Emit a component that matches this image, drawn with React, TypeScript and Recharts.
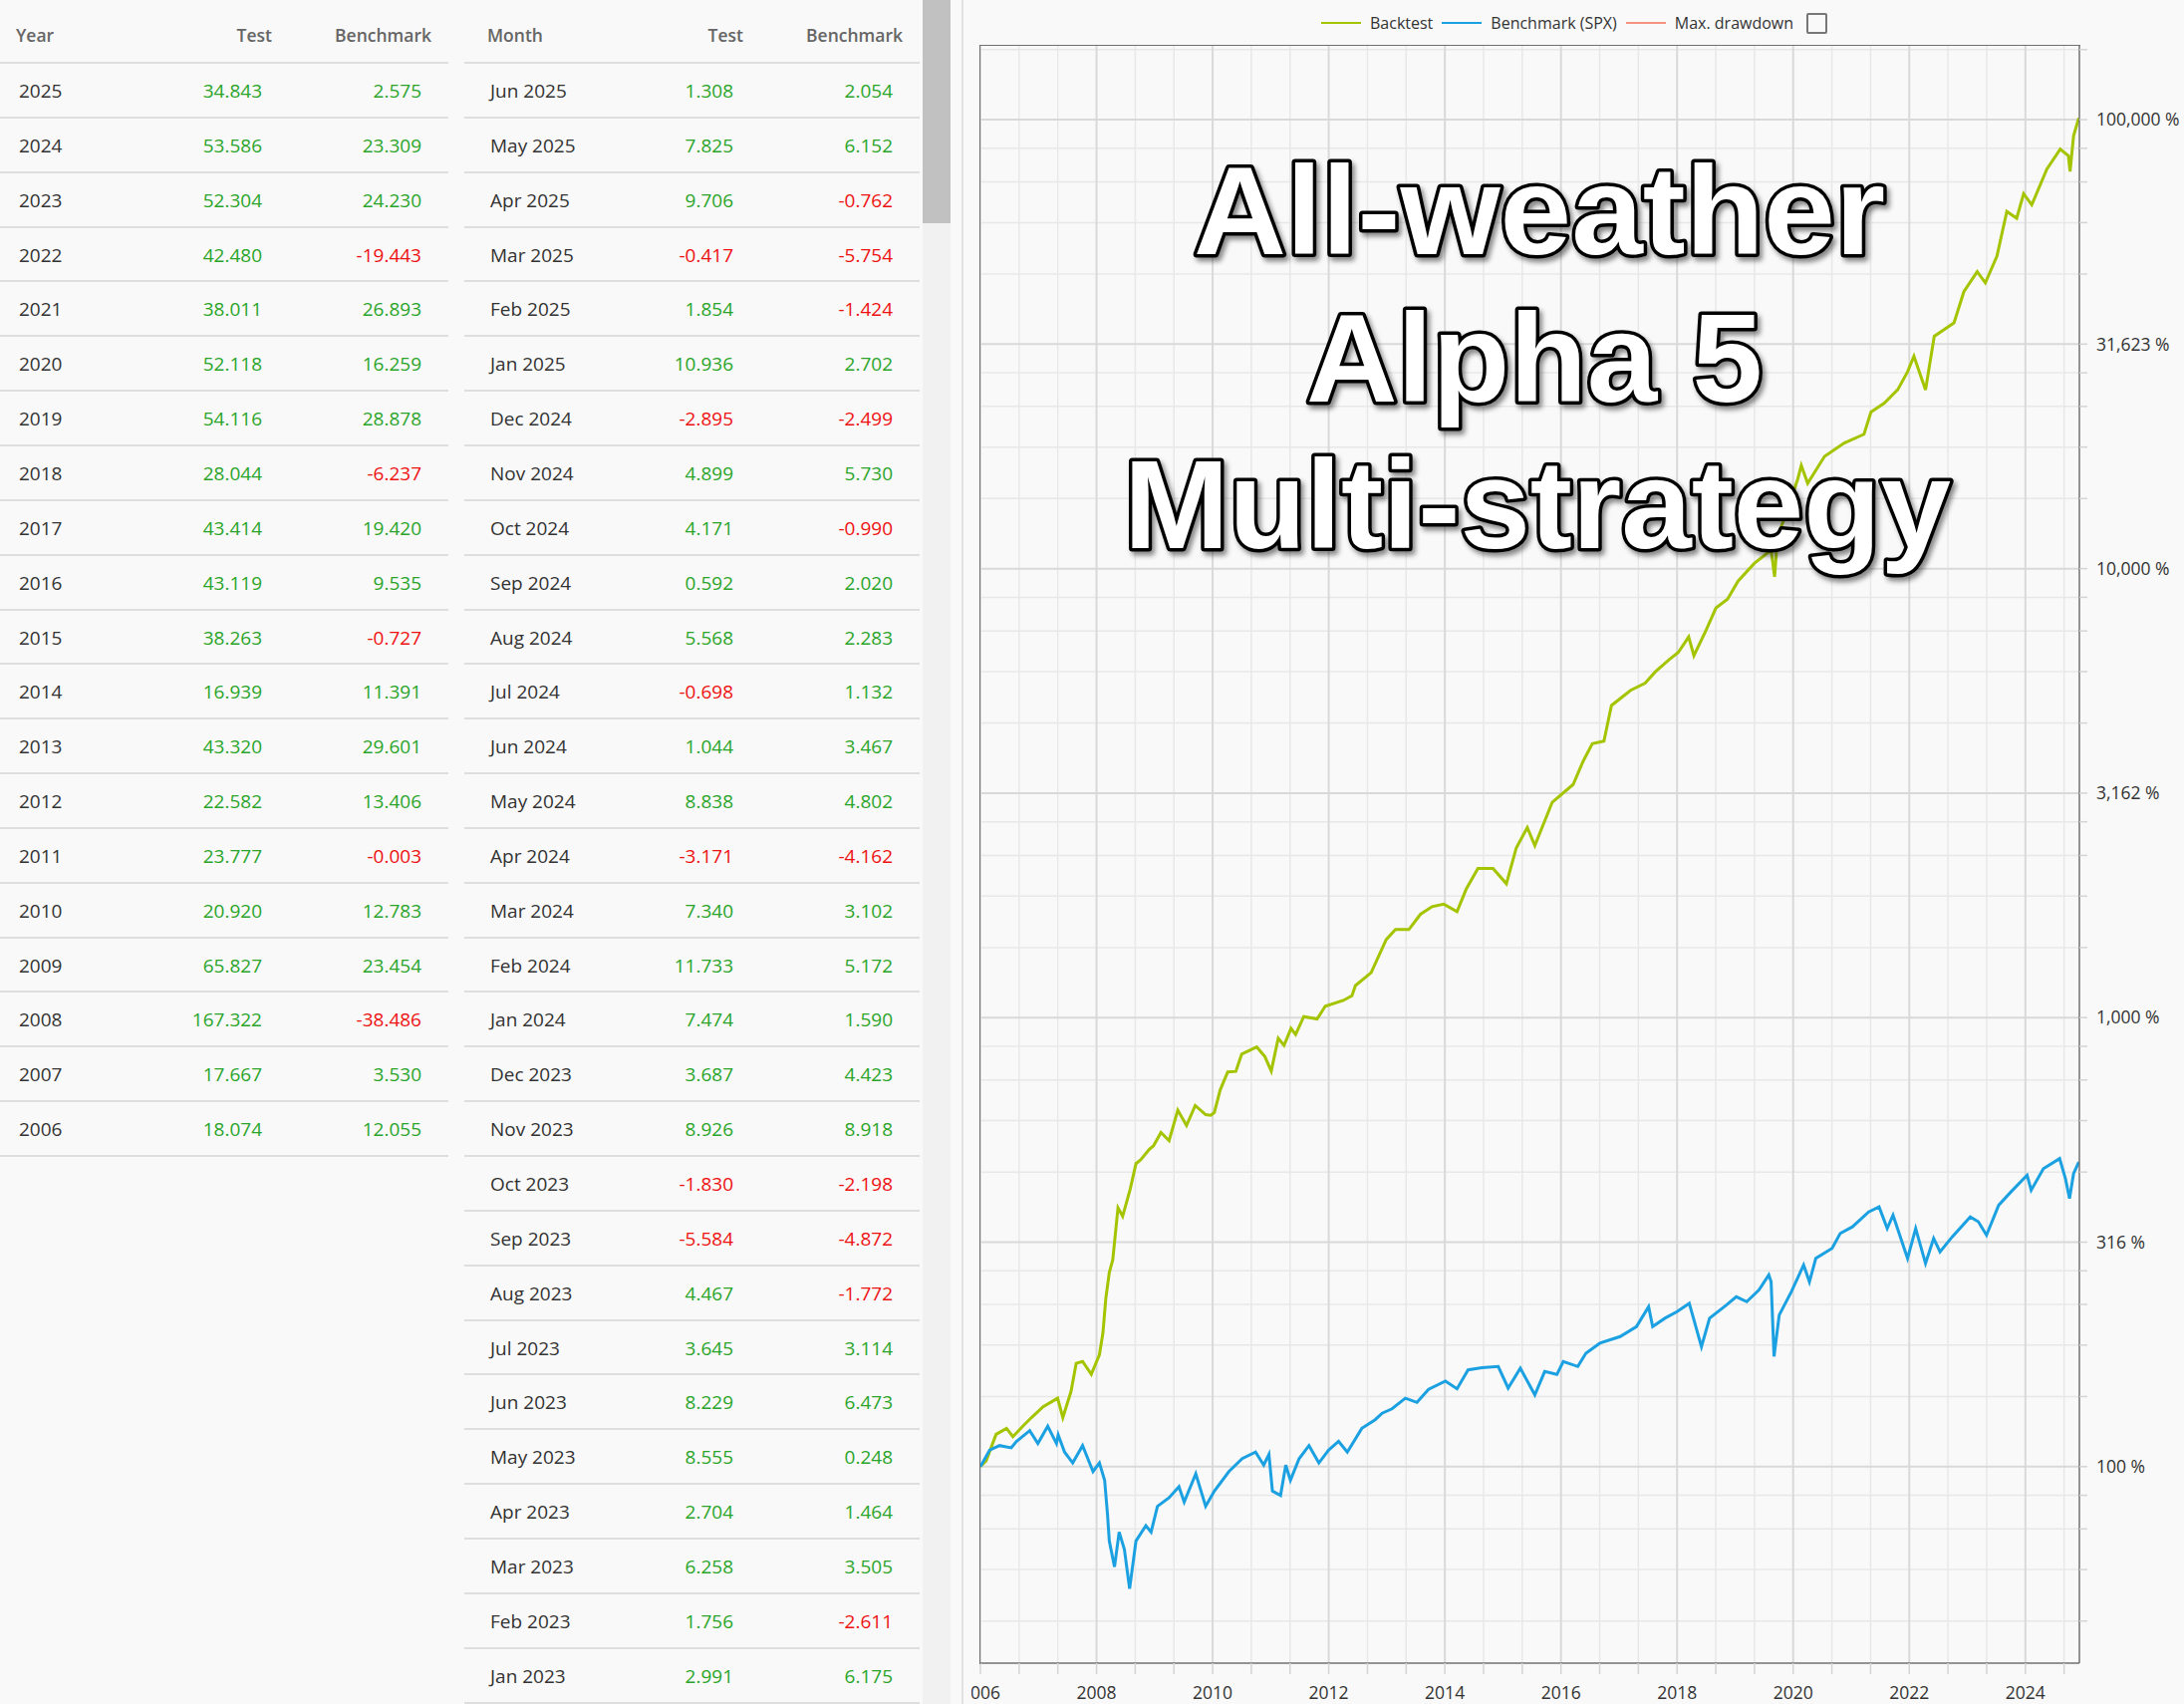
import React from "react";
import { CartesianGrid, Line, LineChart, XAxis, YAxis } from "recharts";

// yearly returns table
const YEARS = ["2025", "2024", "2023", "2022", "2021", "2020", "2019", "2018", "2017", "2016", "2015", "2014", "2013", "2012", "2011", "2010", "2009", "2008", "2007", "2006"];
const YEAR_TEST = [34.843, 53.586, 52.304, 42.48, 38.011, 52.118, 54.116, 28.044, 43.414, 43.119, 38.263, 16.939, 43.32, 22.582, 23.777, 20.92, 65.827, 167.322, 17.667, 18.074];
const YEAR_BENCH = [2.575, 23.309, 24.23, -19.443, 26.893, 16.259, 28.878, -6.237, 19.42, 9.535, -0.727, 11.391, 29.601, 13.406, -0.003, 12.783, 23.454, -38.486, 3.53, 12.055];

// monthly returns table
const MONTHS = ["Jun 2025", "May 2025", "Apr 2025", "Mar 2025", "Feb 2025", "Jan 2025", "Dec 2024", "Nov 2024", "Oct 2024", "Sep 2024", "Aug 2024", "Jul 2024", "Jun 2024", "May 2024", "Apr 2024", "Mar 2024", "Feb 2024", "Jan 2024", "Dec 2023", "Nov 2023", "Oct 2023", "Sep 2023", "Aug 2023", "Jul 2023", "Jun 2023", "May 2023", "Apr 2023", "Mar 2023", "Feb 2023", "Jan 2023"];
const MONTH_TEST = [1.308, 7.825, 9.706, -0.417, 1.854, 10.936, -2.895, 4.899, 4.171, 0.592, 5.568, -0.698, 1.044, 8.838, -3.171, 7.34, 11.733, 7.474, 3.687, 8.926, -1.83, -5.584, 4.467, 3.645, 8.229, 8.555, 2.704, 6.258, 1.756, 2.991];
const MONTH_BENCH = [2.054, 6.152, -0.762, -5.754, -1.424, 2.702, -2.499, 5.73, -0.99, 2.02, 2.283, 1.132, 3.467, 4.802, -4.162, 3.102, 5.172, 1.59, 4.423, 8.918, -2.198, -4.872, -1.772, 3.114, 6.473, 0.248, 1.464, 3.505, -2.611, 6.175];

// equity curves (axis years, % of start)
const BACKTEST_T = [2006.0, 2006.1, 2006.27, 2006.45, 2006.56, 2006.73, 2006.88, 2007.08, 2007.33, 2007.42, 2007.56, 2007.65, 2007.76, 2007.91, 2008.05, 2008.11, 2008.16, 2008.22, 2008.28, 2008.34, 2008.37, 2008.45, 2008.58, 2008.68, 2008.76, 2008.91, 2008.98, 2009.11, 2009.25, 2009.4, 2009.55, 2009.7, 2009.88, 2009.97, 2010.03, 2010.13, 2010.26, 2010.4, 2010.5, 2010.76, 2010.9, 2011.01, 2011.13, 2011.23, 2011.35, 2011.43, 2011.57, 2011.8, 2011.94, 2012.25, 2012.4, 2012.46, 2012.73, 2012.99, 2013.15, 2013.38, 2013.58, 2013.78, 2013.98, 2014.21, 2014.37, 2014.57, 2014.83, 2015.06, 2015.23, 2015.42, 2015.55, 2015.85, 2016.21, 2016.38, 2016.54, 2016.74, 2016.87, 2017.2, 2017.45, 2017.63, 2017.86, 2018.02, 2018.2, 2018.29, 2018.5, 2018.67, 2018.87, 2019.05, 2019.33, 2019.62, 2019.68, 2019.73, 2019.9, 2020.08, 2020.14, 2020.25, 2020.54, 2020.88, 2021.22, 2021.34, 2021.57, 2021.8, 2021.97, 2022.08, 2022.28, 2022.43, 2022.77, 2022.94, 2023.17, 2023.31, 2023.51, 2023.68, 2023.85, 2023.97, 2024.11, 2024.37, 2024.6, 2024.74, 2024.77, 2024.83, 2024.92];
const BACKTEST_V = [100, 103, 118, 121.7, 116.6, 123, 128.6, 135.9, 142, 128.6, 146.9, 169.8, 171.5, 160.6, 177.4, 198.3, 236.7, 270.5, 289, 345, 377, 361, 415, 473, 482, 509, 518, 555, 532, 622, 575, 637, 608, 606, 615, 690, 757, 759, 829, 860, 819, 760, 900, 867, 946, 917, 1005, 993, 1060, 1092, 1119, 1179, 1259, 1492, 1571, 1571, 1699, 1767, 1790, 1722, 1936, 2150, 2150, 1987, 2387, 2650, 2417, 3018, 3306, 3719, 4076, 4129, 4957, 5358, 5560, 5900, 6268, 6506, 7048, 6400, 7290, 8176, 8553, 9376, 10270, 11000, 9590, 11780, 13500, 15850, 16980, 15490, 17780, 19040, 19920, 22330, 23370, 25020, 27430, 29720, 25020, 32930, 35260, 41370, 45840, 43310, 49660, 62430, 60310, 68370, 64590, 77560, 85950, 83060, 76690, 92040, 100800];

const BENCH_T = [2006.0, 2006.16, 2006.33, 2006.53, 2006.62, 2006.85, 2006.99, 2007.16, 2007.31, 2007.34, 2007.45, 2007.59, 2007.76, 2007.94, 2008.05, 2008.14, 2008.19, 2008.22, 2008.31, 2008.39, 2008.48, 2008.57, 2008.68, 2008.85, 2008.94, 2009.05, 2009.25, 2009.42, 2009.51, 2009.71, 2009.88, 2010.03, 2010.28, 2010.51, 2010.74, 2010.88, 2010.97, 2011.03, 2011.17, 2011.26, 2011.34, 2011.49, 2011.66, 2011.83, 2012.0, 2012.17, 2012.32, 2012.57, 2012.8, 2012.92, 2013.09, 2013.32, 2013.52, 2013.72, 2014.01, 2014.21, 2014.4, 2014.64, 2014.92, 2015.09, 2015.3, 2015.55, 2015.72, 2015.93, 2016.04, 2016.29, 2016.43, 2016.67, 2017.02, 2017.3, 2017.51, 2017.58, 2017.79, 2018.0, 2018.21, 2018.42, 2018.56, 2018.85, 2019.02, 2019.2, 2019.41, 2019.58, 2019.62, 2019.67, 2019.76, 2019.97, 2020.18, 2020.28, 2020.39, 2020.67, 2020.81, 2021.02, 2021.3, 2021.48, 2021.62, 2021.72, 2021.97, 2022.11, 2022.28, 2022.42, 2022.53, 2022.74, 2023.05, 2023.19, 2023.33, 2023.54, 2023.75, 2024.03, 2024.1, 2024.31, 2024.59, 2024.69, 2024.76, 2024.83, 2024.92];
const BENCH_V = [100, 108.9, 111.4, 110.1, 113.8, 120.3, 112.6, 123, 112.6, 117.7, 107.7, 101.9, 111.4, 97.5, 101.9, 93.2, 78.1, 68.3, 59.8, 71.5, 65.4, 53.5, 68.3, 73.9, 71.5, 81.6, 85.3, 90.2, 83.4, 96.4, 81.6, 88.2, 97.5, 104.2, 107.7, 100.8, 106.5, 88.2, 86.3, 100.8, 93.2, 104.2, 111.4, 101.9, 108.9, 113.8, 107.7, 121.7, 127.2, 131.5, 134.5, 142, 139, 148.6, 155, 149, 164.2, 166, 167.1, 149.6, 165.7, 144.5, 162.9, 160.4, 171.4, 167.1, 178.9, 188.3, 194.8, 205, 227, 205, 214, 221.4, 231, 185, 214, 229, 239, 233, 247.4, 267.2, 258, 175.9, 217.6, 245.3, 281.2, 258, 290.9, 306.2, 330.6, 342, 369.3, 378.8, 339.2, 363, 290.9, 339.2, 283.6, 322.3, 301, 325, 360, 351, 327.8, 382.2, 409, 445.6, 412.7, 461, 485.3, 438, 395.4, 449.4, 476.9];

const Y_TICKS = [100, 316.228, 1000, 3162.28, 10000, 31622.8, 100000];

const GREEN = "#a5c400";
const BLUE = "#1ba1e2";
const SALMON = "#f4937f";
const POS = "#2aa52a";
const NEG = "#ee1111";
const FONT = "'Segoe UI', 'Open Sans', sans-serif";

const X_MIN = 2006;
const X_MAX = 2024.93;
const Y_MIN = 36.5;
const Y_MAX = 146000;

const backtestData = BACKTEST_T.map((t, i) => ({ t, v: BACKTEST_V[i] }));
const benchData = BENCH_T.map((t, i) => ({ t, v: BENCH_V[i] }));

// minor log grid: 4 linear steps between each half-decade tick
const yMinor: number[] = [];
const yEdges = [31.6228, ...Y_TICKS, 316228];
for (let i = 0; i < yEdges.length - 1; i++) {
  for (let k = 1; k < 5; k++) {
    const v = yEdges[i] + ((yEdges[i + 1] - yEdges[i]) * k) / 5;
    if (v > Y_MIN && v < Y_MAX) yMinor.push(v);
  }
}
const yAllTicks = [...Y_TICKS, ...yMinor].sort((a, b) => a - b);

const xAll: number[] = [];
for (let i = 0; X_MIN + (i * 2) / 3 <= X_MAX; i++) xAll.push(+(X_MIN + (i * 2) / 3).toFixed(4));
const isMajorX = (v: number) => Math.abs(v - Math.round(v)) < 0.01 && Math.round(v) % 2 === 0;
const xMajor = xAll.filter(isMajorX);
const xMinor = xAll.filter((v) => !isMajorX(v));

const HEAD_H = 63;
const ROW_H = 54.85;

type Cols = { width: number; headLeft: number; rowLeft: number; testHead: number; testRow: number; benchHead: number; benchRow: number };

function StatTable({ left, title, labels, test, bench, cols }: { left: number; title: string; labels: string[]; test: number[]; bench: number[]; cols: Cols }) {
  const num = (v: number, right: number, top: number) => (
    <div style={{ position: "absolute", top, right: cols.width - right, height: ROW_H, lineHeight: `${ROW_H}px`, color: v < 0 ? NEG : POS }}>
      {v.toFixed(3)}
    </div>
  );
  return (
    <div style={{ position: "absolute", left, top: 0, width: cols.width, height: 1710, fontFamily: FONT }}>
      <div style={{ position: "absolute", top: 4, left: cols.headLeft, lineHeight: "62px", fontSize: 17.5, fontWeight: 600, color: "#666" }}>{title}</div>
      <div style={{ position: "absolute", top: 4, right: cols.width - cols.testHead, lineHeight: "62px", fontSize: 17.5, fontWeight: 600, color: "#666" }}>Test</div>
      <div style={{ position: "absolute", top: 4, right: cols.width - cols.benchHead, lineHeight: "62px", fontSize: 17.5, fontWeight: 600, color: "#666" }}>Benchmark</div>
      <div style={{ position: "absolute", top: HEAD_H - 1, left: 0, width: cols.width, height: 2, background: "#dedede" }} />
      {labels.map((lab, i) => {
        const top = HEAD_H + i * ROW_H + 1;
        return (
          <div key={lab} style={{ fontSize: 19 }}>
            <div style={{ position: "absolute", top, left: cols.rowLeft, height: ROW_H, lineHeight: `${ROW_H}px`, color: "#333" }}>{lab}</div>
            {num(test[i], cols.testRow, top)}
            {num(bench[i], cols.benchRow, top)}
            <div style={{ position: "absolute", top: HEAD_H + (i + 1) * ROW_H - 1, left: 0, width: cols.width, height: 2, background: "#dedede" }} />
          </div>
        );
      })}
    </div>
  );
}

function ChartLegend() {
  const item = (color: string, label: string) => (
    <div style={{ display: "flex", alignItems: "center", gap: 9 }}>
      <div style={{ width: 40, height: 2.5, background: color }} />
      <span>{label}</span>
    </div>
  );
  return (
    <div style={{ position: "absolute", left: 1326, top: 12, height: 22, display: "flex", alignItems: "center", gap: 9, fontFamily: FONT, fontSize: 16, color: "#333", whiteSpace: "nowrap" }}>
      {item(GREEN, "Backtest")}
      {item(BLUE, "Benchmark (SPX)")}
      {item(SALMON, "Max. drawdown")}
      <div style={{ width: 17, height: 17, border: "2px solid #777", borderRadius: 2, marginLeft: 4 }} />
    </div>
  );
}

function Title() {
  return (
    <svg width={2192} height={1710} style={{ position: "absolute", left: 0, top: 0, pointerEvents: "none" }}>
      <defs>
        <filter id="titleShadow" x="-10%" y="-20%" width="120%" height="140%">
          <feDropShadow dx="3" dy="4" stdDeviation="2.5" floodColor="#000" floodOpacity="0.45" />
        </filter>
      </defs>
      <g filter="url(#titleShadow)" fontFamily="'Liberation Sans', Arial, sans-serif" fontWeight="bold" fontSize={127} textAnchor="middle" fill="#fff" stroke="#000" strokeWidth={7} strokeLinejoin="round" style={{ paintOrder: "stroke" }}>
        <text x={1545} y={255} textLength={694} lengthAdjust="spacingAndGlyphs">All-weather</text>
        <text x={1540} y={403} textLength={458} lengthAdjust="spacingAndGlyphs">Alpha 5</text>
        <text x={1543} y={550} textLength={830} lengthAdjust="spacingAndGlyphs">Multi-strategy</text>
      </g>
    </svg>
  );
}

export default function App() {
  const axisText = { fill: "#333", fontSize: 17.5, fontFamily: FONT };
  return (
    <div style={{ position: "relative", width: 2192, height: 1710, overflow: "hidden", background: "#f9f9f9" }}>
      <style>{`body{margin:0;background:#f9f9f9}`}</style>
      <StatTable left={0} title="Year" labels={YEARS} test={YEAR_TEST} bench={YEAR_BENCH}
        cols={{ width: 450, headLeft: 16, rowLeft: 19, testHead: 273, testRow: 263, benchHead: 433, benchRow: 423 }} />
      <StatTable left={466} title="Month" labels={MONTHS} test={MONTH_TEST} bench={MONTH_BENCH}
        cols={{ width: 457, headLeft: 23, rowLeft: 26, testHead: 280, testRow: 270, benchHead: 440, benchRow: 430 }} />
      {/* scrollbar */}
      <div style={{ position: "absolute", left: 926, top: 0, width: 28, height: 1710, background: "#f1f1f1" }} />
      <div style={{ position: "absolute", left: 926, top: 0, width: 28, height: 224, background: "#c1c1c1" }} />
      <div style={{ position: "absolute", left: 965, top: 0, width: 2, height: 1710, background: "#e2e2e2" }} />

      <div style={{ position: "absolute", left: 975, top: 0, width: 1217, height: 1710, overflow: "hidden" }}>
        <LineChart width={1217} height={1710} margin={{ top: 46, right: 0, bottom: 0, left: 9 }}>
          <CartesianGrid stroke="#e8e8e8" strokeWidth={1.5} horizontalValues={yMinor} verticalValues={xMinor} />
          <CartesianGrid stroke="#d9d9d9" strokeWidth={2} horizontalValues={Y_TICKS} verticalValues={xMajor} />
          <XAxis dataKey="t" type="number" domain={[X_MIN, X_MAX]} allowDataOverflow ticks={xAll} interval={0}
            tickFormatter={(v: number) => (isMajorX(v) ? String(Math.round(v)) : "")}
            height={41} tickSize={11} tickMargin={13} stroke="#707070" strokeWidth={1.5}
            tickLine={{ stroke: "#d4d4d4", strokeWidth: 1.5 }} tick={axisText} />
          <YAxis orientation="right" scale="log" type="number" domain={[Y_MIN, Y_MAX]} allowDataOverflow ticks={yAllTicks} interval={0}
            tickFormatter={(v: number) => (Y_TICKS.includes(v) ? `${Math.round(v).toLocaleString("en-US")} %` : "")}
            width={105} tickSize={8} tickMargin={9} stroke="#707070" strokeWidth={1.5}
            tickLine={{ stroke: "#d4d4d4", strokeWidth: 1.5 }} tick={axisText} />
          <Line data={backtestData} dataKey="v" name="Backtest" stroke={GREEN} strokeWidth={3} dot={false} type="linear" isAnimationActive={false} />
          <Line data={benchData} dataKey="v" name="Benchmark (SPX)" stroke={BLUE} strokeWidth={3} dot={false} type="linear" isAnimationActive={false} />
        </LineChart>
      </div>
      {/* plot frame top/left */}
      <div style={{ position: "absolute", left: 983, top: 45, width: 1104, height: 1624, borderTop: "1.5px solid #707070", borderLeft: "1.5px solid #707070", pointerEvents: "none" }} />

      <ChartLegend />
      <Title />
    </div>
  );
}
